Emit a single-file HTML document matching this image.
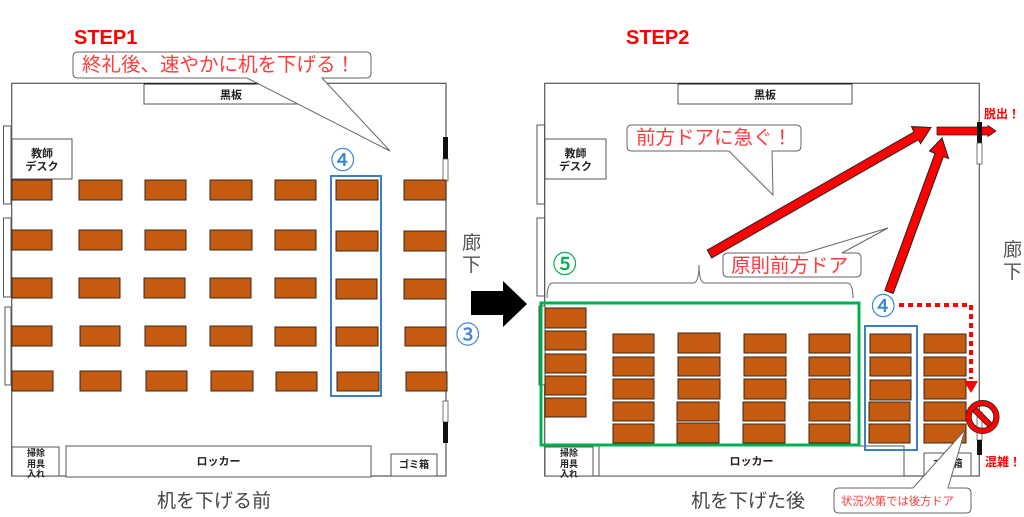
<!DOCTYPE html>
<html><head><meta charset="utf-8">
<style>
html,body{margin:0;padding:0;background:#fff;}
svg{display:block;}
.d{fill:#c55a11;stroke:#3a2614;stroke-width:1}
.f{fill:#fff;stroke:#555;stroke-width:1}
.t{font-family:"Liberation Sans","Noto Sans CJK JP",sans-serif;}
.b{font-weight:bold;fill:#222;}
</style></head>
<body>
<svg width="1024" height="517" viewBox="0 0 1024 517" xmlns="http://www.w3.org/2000/svg">
<rect width="1024" height="517" fill="#fff"/>

<!-- ================= LEFT ROOM ================= -->
<rect x="11.7" y="83.3" width="434.3" height="392.7" fill="#fff" stroke="#555" stroke-width="1.2"/>
<rect x="3.5" y="126" width="7.5" height="78" class="f"/>
<rect x="3.5" y="218" width="7.5" height="79" class="f"/>
<rect x="5" y="307" width="6" height="78" class="f"/>
<rect x="443" y="137" width="5" height="22" fill="#111"/>
<rect x="443" y="159" width="5" height="22" fill="#fff" stroke="#555" stroke-width="0.8"/>
<rect x="443" y="401" width="5" height="21" fill="#fff" stroke="#555" stroke-width="0.8"/>
<rect x="443" y="422" width="5" height="21" fill="#111"/>
<rect x="144" y="83.5" width="174" height="20.5" class="f"/>
<line x1="144" y1="83.8" x2="318" y2="83.8" stroke="#222" stroke-width="1.5"/>
<text x="231" y="98.5" font-size="11" text-anchor="middle" class="t b">黒板</text>
<rect x="12" y="139" width="60" height="40" class="f"/>
<text x="42" y="157" font-size="11" text-anchor="middle" class="t b">教師</text>
<text x="42" y="170" font-size="11" text-anchor="middle" class="t b">デスク</text>
<rect x="12" y="447" width="47" height="29" class="f"/>
<text x="36" y="456" font-size="9" text-anchor="middle" class="t b" fill="#333">掃除</text>
<text x="36" y="467" font-size="9" text-anchor="middle" class="t b" fill="#333">用具</text>
<text x="36" y="477" font-size="9" text-anchor="middle" class="t b" fill="#333">入れ</text>
<rect x="66" y="446" width="305" height="31" class="f"/>
<text x="218.5" y="465" font-size="11" text-anchor="middle" class="t b">ロッカー</text>
<rect x="391" y="454" width="46" height="22" class="f"/>
<text x="414" y="468" font-size="10" text-anchor="middle" class="t b">ゴミ箱</text>

<g>
<rect class="d" x="12" y="180" width="40" height="20"/><rect class="d" x="79" y="180" width="43" height="20"/><rect class="d" x="145" y="180" width="41" height="20"/><rect class="d" x="210" y="180" width="42" height="20"/><rect class="d" x="275" y="180" width="41" height="20"/><rect class="d" x="336" y="180" width="42" height="20"/><rect class="d" x="404" y="180" width="42" height="20"/>
<rect class="d" x="12" y="230" width="40" height="20"/><rect class="d" x="79" y="230" width="43" height="20"/><rect class="d" x="145" y="230" width="41" height="20"/><rect class="d" x="210" y="230" width="42" height="20"/><rect class="d" x="275" y="230" width="41" height="20"/><rect class="d" x="336" y="231" width="42" height="20"/><rect class="d" x="404" y="231" width="42" height="20"/>
<rect class="d" x="12" y="278" width="40" height="20"/><rect class="d" x="79" y="278" width="41" height="20"/><rect class="d" x="144" y="278" width="41" height="20"/><rect class="d" x="210" y="278" width="41" height="20"/><rect class="d" x="275" y="278" width="41" height="20"/><rect class="d" x="336" y="279" width="41" height="20"/><rect class="d" x="404" y="279" width="42" height="20"/>
<rect class="d" x="12" y="326" width="40" height="20"/><rect class="d" x="80" y="326" width="40" height="20"/><rect class="d" x="145" y="326" width="41" height="20"/><rect class="d" x="210" y="326" width="42" height="20"/><rect class="d" x="275" y="327" width="41" height="19"/><rect class="d" x="336" y="327" width="42" height="19"/><rect class="d" x="405" y="327" width="41" height="19"/>
<rect class="d" x="12" y="371" width="41" height="20"/><rect class="d" x="80" y="371" width="41" height="20"/><rect class="d" x="146" y="371" width="41" height="20"/><rect class="d" x="211" y="371" width="42" height="20"/><rect class="d" x="276" y="372" width="41" height="19"/><rect class="d" x="337" y="372" width="42" height="19"/><rect class="d" x="406" y="372" width="41" height="19"/>
</g>
<rect x="331" y="176" width="50" height="220" fill="none" stroke="#3d7fc4" stroke-width="2"/>
<text x="330.7" y="168.5" font-size="24" class="t" fill="#3d86cf" stroke="#3d86cf" stroke-width="0.4">④</text>
<text x="455.7" y="343" font-size="24" class="t" fill="#3d86cf" stroke="#3d86cf" stroke-width="0.4">③</text>
<text x="462" y="249" font-size="19" class="t" fill="#555">廊</text>
<text x="462" y="271" font-size="19" class="t" fill="#555">下</text>

<text x="74" y="44" font-size="20" class="t" font-weight="bold" fill="#ff0000">STEP1</text>
<path d="M78,52 H366 Q371,52 371,57 V73 Q371,78 366,78 H322 L390,151 L247,78 H78 Q73,78 73,73 V57 Q73,52 78,52 Z" fill="#fff" stroke="#666" stroke-width="1"/>
<text x="82" y="71" font-size="19.5" class="t" fill="#ff3b3b">終礼後、速やかに机を下げる！</text>

<text x="157" y="507" font-size="19" class="t" fill="#444">机を下げる前</text>

<polygon points="471,291 503,291 503,281 527,304 503,327 503,315 471,315" fill="#000"/>

<!-- ================= RIGHT ROOM ================= -->
<rect x="544.7" y="83.3" width="434.6" height="392.7" fill="#fff" stroke="#555" stroke-width="1.2"/>
<rect x="537" y="125" width="7.5" height="79" class="f"/>
<rect x="537" y="218" width="7.5" height="78" class="f"/>
<rect x="539" y="306" width="6" height="79" class="f"/>
<rect x="678" y="83.5" width="174" height="20.5" class="f"/>
<line x1="678" y1="83.8" x2="852" y2="83.8" stroke="#222" stroke-width="1.5"/>
<text x="765" y="98.5" font-size="11" text-anchor="middle" class="t b">黒板</text>
<rect x="545" y="139" width="61" height="40" class="f"/>
<text x="575.5" y="157" font-size="11" text-anchor="middle" class="t b">教師</text>
<text x="575.5" y="170" font-size="11" text-anchor="middle" class="t b">デスク</text>
<rect x="545" y="447" width="48" height="29" class="f"/>
<text x="569" y="456" font-size="9" text-anchor="middle" class="t b" fill="#333">掃除</text>
<text x="569" y="467" font-size="9" text-anchor="middle" class="t b" fill="#333">用具</text>
<text x="569" y="477" font-size="9" text-anchor="middle" class="t b" fill="#333">入れ</text>
<rect x="599" y="446" width="305" height="30" class="f"/>
<text x="751.5" y="465" font-size="11" text-anchor="middle" class="t b">ロッカー</text>
<rect x="924" y="453" width="47" height="23" class="f"/>
<text x="947.5" y="467" font-size="10" text-anchor="middle" class="t b">ゴミ箱</text>

<g>
<rect class="d" x="545" y="308" width="41" height="20"/><rect class="d" x="545" y="331" width="41" height="19"/><rect class="d" x="545" y="354" width="41" height="19"/><rect class="d" x="545" y="376" width="41" height="19"/><rect class="d" x="545" y="398" width="41" height="19"/>
<rect class="d" x="613" y="334" width="41" height="19"/><rect class="d" x="678" y="333" width="42" height="20"/><rect class="d" x="744" y="334" width="42" height="19"/><rect class="d" x="809" y="334" width="41" height="19"/><rect class="d" x="870" y="334" width="41" height="19"/><rect class="d" x="924" y="334" width="42" height="19"/>
<rect class="d" x="613" y="357" width="41" height="19"/><rect class="d" x="678" y="357" width="42" height="19"/><rect class="d" x="744" y="357" width="42" height="19"/><rect class="d" x="809" y="357" width="41" height="19"/><rect class="d" x="870" y="357" width="41" height="19"/><rect class="d" x="924" y="357" width="42" height="19"/>
<rect class="d" x="613" y="379" width="41" height="20"/><rect class="d" x="678" y="379" width="42" height="20"/><rect class="d" x="744" y="379" width="42" height="20"/><rect class="d" x="809" y="379" width="41" height="20"/><rect class="d" x="870" y="380" width="41" height="20"/><rect class="d" x="924" y="379" width="42" height="20"/>
<rect class="d" x="613" y="402" width="41" height="19"/><rect class="d" x="677" y="402" width="42" height="19"/><rect class="d" x="743" y="402" width="42" height="19"/><rect class="d" x="809" y="402" width="41" height="19"/><rect class="d" x="869" y="402" width="41" height="19"/><rect class="d" x="924" y="402" width="42" height="19"/>
<rect class="d" x="613" y="424" width="41" height="19"/><rect class="d" x="677" y="423" width="42" height="20"/><rect class="d" x="743" y="424" width="42" height="19"/><rect class="d" x="809" y="424" width="41" height="19"/><rect class="d" x="869" y="424" width="41" height="19"/><rect class="d" x="924" y="424" width="42" height="19"/>
</g>

<rect x="541" y="303" width="318" height="142" fill="none" stroke="#00b050" stroke-width="3"/>
<rect x="865" y="326" width="52" height="124" fill="none" stroke="#3d7fc4" stroke-width="2"/>
<text x="552.7" y="272.5" font-size="24" class="t" fill="#00b050" stroke="#00b050" stroke-width="0.4">⑤</text>
<text x="871.2" y="314.5" font-size="24" class="t" fill="#3d86cf" stroke="#3d86cf" stroke-width="0.4">④</text>

<path d="M547,298 Q547,283 553,283 L693,283 Q699,283 699,265 Q699,283 705,283 L847,283 Q853,283 853,298" fill="none" stroke="#666" stroke-width="1"/>

<text x="1003" y="256" font-size="19" class="t" fill="#555">廊</text>
<text x="1003" y="278" font-size="19" class="t" fill="#555">下</text>

<text x="626" y="44" font-size="20" class="t" font-weight="bold" fill="#ff0000">STEP2</text>

<path d="M632,125 H796 Q801,125 801,130 V146 Q801,151 796,151 H772 L773,195 L729,151 H632 Q627,151 627,146 V130 Q627,125 632,125 Z" fill="#fff" stroke="#666" stroke-width="1"/>
<text x="636" y="144" font-size="19.5" class="t" fill="#ff3b3b">前方ドアに急ぐ！</text>

<path d="M728,253 H805 L888,228 L842,253 H856 Q861,253 861,258 V272 Q861,277 856,277 H728 Q723,277 723,272 V258 Q723,253 728,253 Z" fill="#fff" stroke="#666" stroke-width="1"/>
<text x="731" y="272" font-size="19.5" class="t" fill="#ff3b3b">原則前方ドア</text>

<polygon points="707.3,250.1 913.9,132 911.6,126.5 931,127.5 920.6,143.7 918.3,139.8 711.7,257.9" fill="#ff0000" stroke="#222" stroke-width="1"/>
<polygon points="884.8,290.5 935,153.5 929.5,151 942,138 948.6,158.5 943.4,156.5 893.2,293.5" fill="#ff0000" stroke="#222" stroke-width="1"/>
<polygon points="937,127 988,127 988,125.5 996,131 988,136.5 988,135 937,135" fill="#ff0000" stroke="#222" stroke-width="0.8"/>
<rect x="977" y="122" width="5" height="21" fill="#111"/>
<rect x="977" y="143" width="5" height="21" fill="#fff" stroke="#555" stroke-width="0.8"/>
<rect x="977" y="412" width="5" height="28" fill="#fff" stroke="#555" stroke-width="0.8"/>
<rect x="977" y="440" width="5" height="15" fill="#111"/>
<text x="984" y="118" font-size="12" class="t" font-weight="bold" fill="#ff0000">脱出！</text>

<path d="M899,305 H971 V379" fill="none" stroke="#ff0000" stroke-width="4" stroke-dasharray="5 4"/>
<polygon points="964,381 978,381 971,393" fill="#ff0000"/>

<path d="M839,488 H913 L965,430 L948,488 H966 Q971,488 971,493 V508 Q971,513 966,513 H839 Q834,513 834,508 V493 Q834,488 839,488 Z" fill="#fff" stroke="#666" stroke-width="1"/>
<text x="841" y="505" font-size="11.3" class="t" fill="#ff3b3b">状況次第では後方ドア</text>

<line x1="973.5" y1="408.5" x2="990.5" y2="425.5" stroke="#222" stroke-width="6.5"/>
<line x1="973.5" y1="408.5" x2="990.5" y2="425.5" stroke="#ff0000" stroke-width="5"/>
<circle cx="982.5" cy="417" r="16.5" fill="none" stroke="#222" stroke-width="1"/>
<circle cx="982.5" cy="417" r="13.8" fill="none" stroke="#ff0000" stroke-width="5"/>
<circle cx="982.5" cy="417" r="11.2" fill="none" stroke="#222" stroke-width="0.8"/>
<text x="985" y="466" font-size="12" class="t" font-weight="bold" fill="#ff0000">混雑！</text>

<text x="691" y="507" font-size="19" class="t" fill="#444">机を下げた後</text>
</svg>
</body></html>
